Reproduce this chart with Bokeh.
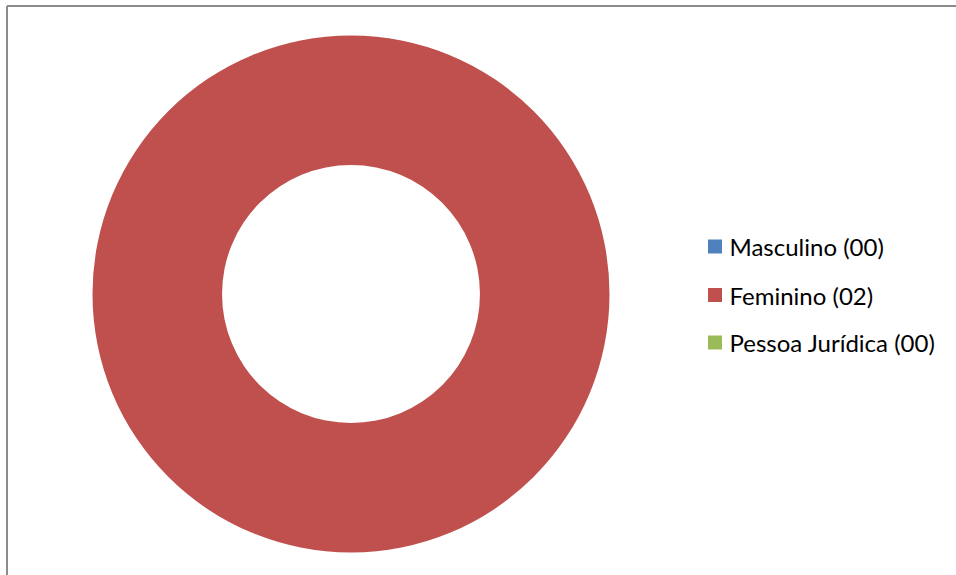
import numpy as np
from bokeh.plotting import figure
from bokeh.models import Range1d, ColumnDataSource
from bokeh.core.properties import value
from bokeh.embed import file_html
from bokeh.resources import INLINE

categories = ["Masculino", "Feminino", "Pessoa Jurídica"]
counts = [0, 2, 0]
labels = ["Masculino (00)", "Feminino (02)", "Pessoa Jurídica (00)"]
colors = ["#4F81BD", "#C0504D", "#9BBB59"]

W, H = 956, 575
p = figure(width=W, height=H, output_backend="svg", toolbar_location=None,
           x_range=Range1d(0, W), y_range=Range1d(H, 0), min_border=0)
p.axis.visible = False
p.grid.visible = False
p.outline_line_color = None
p.background_fill_color = "white"
p.border_fill_color = "white"

# chart area border (only left and top edges visible)
p.multi_line(xs=[[6.5, 6.5], [6.5, W + 20]], ys=[[H + 20, 5.5], [5.5, 5.5]],
             line_color="#8C8C8C", line_width=2)

vals = np.array(counts, dtype=float)
frac = vals / vals.sum()
ends = np.pi / 2 - 2 * np.pi * np.cumsum(frac)
starts = np.concatenate([[np.pi / 2], ends[:-1]])
keep = vals > 0
src = ColumnDataSource(dict(cat=[c for c, k in zip(categories, keep) if k],
                            start=starts[keep], end=ends[keep],
                            color=[c for c, k in zip(colors, keep) if k],
                            x=[350.5] * int(keep.sum()), y=[293.5] * int(keep.sum())))
p.annular_wedge(x="x", y="y", inner_radius=129, outer_radius=258.5,
                inner_radius_units="screen", outer_radius_units="screen",
                start_angle="end", end_angle="start", direction="anticlock",
                fill_color="color", line_color=None, source=src)

ly = [246, 294.5, 342]
lsrc = ColumnDataSource(dict(x=[714.5] * 3, tx=[729] * 3, y=ly, color=colors, label=labels))
p.scatter(x="x", y="y", marker="square", size=14, fill_color="color", line_color=None, source=lsrc)
p.text(x="tx", y="y", text="label", source=lsrc, text_font=value("Lato"),
       text_font_size="24px", text_baseline="middle", text_color="#000000")

open("out.html", "w").write(file_html(p, INLINE))
